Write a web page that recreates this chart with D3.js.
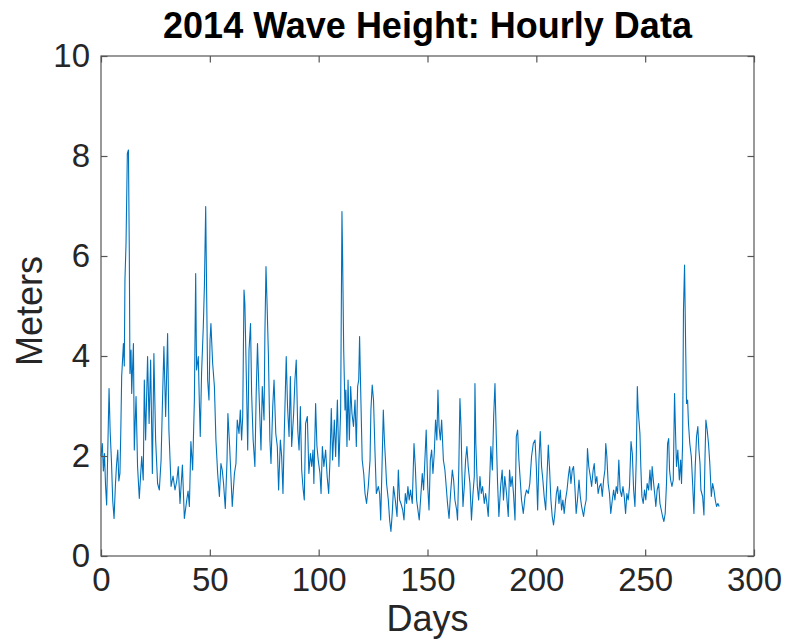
<!DOCTYPE html>
<html>
<head>
<meta charset="utf-8">
<script src="https://cdn.jsdelivr.net/npm/d3@7"></script>
<style>
  html, body { margin: 0; padding: 0; background: #fff; }
  svg { display: block; }
  text { font-family: "Liberation Sans", Arial, Helvetica, sans-serif; }
</style>
</head>
<body>
<svg id="chart" width="786" height="643"></svg>
<script>
// ---- Data ----
const chartTitle = "2014 Wave Height: Hourly Data";
const xLabel = "Days";
const yLabel = "Meters";
const xTicks = [0, 50, 100, 150, 200, 250, 300];
const yTicks = [0, 2, 4, 6, 8, 10];

const days = [
  0.0,0.6,1.1,1.6,2.1,2.6,3.2,3.7,4.2,4.8,5.4,6.0,6.6,7.1,7.7,8.2,8.7,9.1,9.5,10.3,10.7,11.0,11.5,12.1,12.6,13.0,13.3,13.8,14.1,14.9,
  15.3,16.1,16.8,17.6,18.7,19.4,19.9,20.5,21.4,22.1,22.8,23.6,24.3,25.1,26.0,26.8,27.6,28.3,28.9,29.7,30.6,31.2,32.2,33.1,34.0,34.8,35.5,36.3,37.4,38.3,
  39.4,40.0,40.6,41.3,42.1,42.9,43.5,43.9,44.7,45.2,45.6,46.2,47.0,47.5,48.1,
  48.5,49.0,49.6,50.1,50.5,51.3,52.1,52.8,53.6,54.4,55.1,55.7,56.3,57.1,57.9,58.3,59.1,59.7,60.3,61.3,62.0,62.6,63.4,64.0,64.6,65.1,65.7,66.1,66.8,67.4,
  68.0,68.7,69.2,69.9,70.7,71.3,71.9,72.6,73.5,74.1,74.9,75.3,75.8,76.2,76.9,77.6,78.1,78.9,79.5,80.3,81.0,81.6,82.4,83.0,83.6,84.2,85.1,85.7,86.4,87.0,
  87.6,88.5,89.1,89.7,90.4,91.0,91.6,92.2,92.9,93.4,94.0,94.8,95.5,96.2,96.8,97.4,97.8,98.6,99.2,
  99.8,100.6,101.1,101.7,102.4,103.2,103.9,104.6,105.2,105.8,106.4,107.2,107.8,108.6,109.3,110.1,110.7,111.0,111.5,112.1,112.5,113.0,113.5,114.1,114.7,115.3,116.0,116.7,117.3,117.9,
  118.4,118.8,119.4,120.0,120.7,121.3,122.0,122.8,123.6,124.0,124.6,125.2,125.9,126.5,127.4,128.0,128.5,129.1,129.7,130.2,130.6,131.2,132.0,132.6,133.2,133.8,134.4,135.2,136.0,136.6,
  137.2,137.8,138.6,139.2,139.8,140.4,141.0,141.6,142.2,143.0,143.8,144.4,145.0,145.6,146.2,147.0,147.6,148.2,148.8,
  149.4,150.1,150.7,151.3,151.9,152.5,153.1,153.7,154.3,154.8,155.3,155.9,156.5,157.3,158.0,158.6,159.2,159.9,160.6,161.4,162.0,162.6,163.4,163.8,164.4,164.9,165.4,165.8,166.3,166.9,
  167.5,168.1,168.7,169.5,170.2,170.9,171.5,171.8,172.2,172.9,173.5,174.1,174.7,175.3,176.1,176.7,177.3,177.9,178.5,179.1,179.8,180.4,181.0,181.6,182.2,182.8,183.6,184.3,184.9,185.5,
  186.3,187.1,187.7,188.3,188.9,189.5,190.2,190.8,191.4,192.0,192.6,193.2,194.0,194.8,195.5,196.3,197.0,197.8,198.6,
  199.4,200.0,200.6,201.2,201.8,202.4,203.0,203.6,204.3,204.9,205.5,206.1,206.7,207.3,207.9,208.5,209.2,209.8,210.4,211.0,211.6,212.2,212.8,213.4,214.1,214.7,215.3,215.9,216.5,217.1,
  217.7,218.3,218.9,219.6,220.2,220.8,221.7,222.3,222.9,223.5,224.1,224.8,225.4,226.1,226.6,227.2,227.8,228.4,229.0,229.7,230.3,230.9,231.5,231.9,232.4,233.0,233.6,234.2,234.9,235.5,
  236.1,236.7,237.3,237.9,238.5,239.2,239.8,240.4,241.0,241.6,242.2,242.8,243.5,244.1,244.7,245.3,245.9,246.4,246.8,
  247.6,248.0,248.5,249.1,249.7,250.3,250.9,251.6,252.2,252.8,253.2,253.9,254.5,254.9,255.5,256.2,256.8,257.4,258.0,258.6,259.2,259.8,260.3,260.8,261.2,261.7,262.3,262.9,263.5,264.0,
  264.4,265.0,265.7,266.3,266.7,267.2,267.6,268.1,268.6,269.0,269.5,269.9,270.5,271.2,271.8,272.4,273.0,273.6,274.2,274.7,275.2,275.6,276.4,277.0,277.5,277.9,278.5,279.1,279.7,280.4,
  281.0,281.6,282.2,282.8,283.4,284.0
];

const waveHeight = [
  2.0,2.25,1.7,2.05,1.4,1.02,2.3,3.35,2.5,1.9,1.1,0.75,1.4,1.8,2.12,1.5,1.65,2.5,3.59,4.25,3.8,5.52,6.25,8.05,8.12,6.12,3.65,4.12,3.25,4.25,
  2.12,3.19,1.79,1.15,1.99,1.52,3.52,2.32,3.99,2.65,3.92,1.65,4.05,2.32,1.45,1.32,1.92,3.19,4.19,2.79,4.45,2.52,1.39,1.6,1.32,1.5,1.79,1.05,1.82,0.75,
  1.12,1.3,0.99,2.29,1.72,3.12,5.65,3.72,3.99,3.05,2.39,3.65,4.59,5.39,6.99,
  5.39,3.52,3.12,4.32,4.65,3.85,3.39,2.32,1.65,1.19,1.85,1.72,1.45,0.95,1.92,2.85,2.19,1.59,0.99,1.65,1.85,2.72,2.45,2.92,2.32,2.79,5.32,5.05,3.52,2.12,
  4.12,4.65,3.25,2.32,1.79,3.25,4.25,3.25,2.12,3.39,2.72,4.45,5.79,5.19,4.05,2.32,1.85,2.99,3.52,2.45,2.19,1.32,2.32,1.99,1.25,2.45,3.99,2.99,2.39,3.59,
  2.19,2.85,3.52,3.92,2.52,2.12,2.99,1.72,1.32,1.12,2.65,2.79,1.65,2.05,1.79,2.12,1.45,3.05,2.2,
  1.92,1.65,1.25,2.19,1.79,2.12,1.59,1.25,1.92,2.95,1.92,2.72,1.99,3.12,1.79,2.92,6.89,5.99,4.12,2.92,3.32,2.19,3.52,2.32,3.39,2.85,2.59,3.12,2.19,3.39,
  3.52,4.39,3.12,1.92,1.65,1.25,1.05,1.39,1.92,2.92,3.42,3.12,2.05,1.25,1.39,1.25,0.72,1.79,2.92,2.32,1.99,1.45,1.12,0.72,0.49,0.85,1.39,1.12,0.79,1.72,
  1.12,1.05,0.92,0.72,1.25,1.05,1.39,1.12,1.32,1.05,2.25,1.79,1.12,0.92,0.72,1.25,1.65,1.32,1.92,
  2.52,1.39,0.92,1.92,2.12,1.65,2.05,2.72,2.32,3.32,2.59,2.32,2.72,1.92,1.72,1.39,1.05,0.75,1.25,1.72,1.52,1.12,0.92,0.72,1.79,3.15,2.59,1.72,0.99,1.39,
  1.92,2.19,1.79,1.45,0.72,1.25,1.59,3.45,2.25,1.39,1.12,1.59,1.25,1.39,1.05,1.25,1.05,0.79,1.45,2.19,1.72,2.79,3.45,2.39,1.45,0.79,1.39,1.72,1.12,1.59,
  1.25,0.79,1.72,1.39,1.59,1.25,0.72,2.39,2.52,1.92,1.52,1.12,0.85,1.19,1.32,1.25,1.45,1.99,2.25,
  2.32,1.79,0.92,1.92,2.49,1.79,1.52,1.19,0.92,1.59,2.22,1.72,1.12,0.79,0.62,0.85,1.25,1.39,1.05,1.32,0.92,1.12,0.85,1.12,1.32,1.59,1.79,1.45,1.72,1.79,
  1.39,0.85,1.12,1.52,1.19,0.99,0.79,0.99,1.12,2.15,1.79,1.59,1.39,1.72,1.85,1.45,1.59,1.25,1.39,1.45,1.19,1.52,1.72,2.25,1.99,1.45,1.25,0.85,1.12,1.32,
  1.12,1.39,1.25,1.92,1.32,1.19,1.39,1.19,0.85,1.25,1.12,1.39,2.29,2.05,1.32,0.99,1.92,3.39,2.92,
  2.45,1.79,1.19,1.05,1.32,1.12,1.45,1.32,1.72,1.32,1.79,1.45,1.19,0.99,1.32,1.45,1.05,0.92,0.79,0.69,0.85,1.45,2.25,2.35,1.72,1.52,1.39,1.52,3.25,2.39,
  1.79,2.12,1.52,1.92,1.45,2.25,4.92,5.82,4.19,3.05,3.12,2.65,2.25,1.99,1.45,0.85,1.79,2.39,2.59,2.12,1.85,1.32,1.19,0.82,1.99,2.72,2.52,2.25,1.85,1.19,
  1.45,1.32,1.12,0.99,1.05,0.99
];

// ---- Layout ----
const W = 786, H = 643;
const plot = { left: 101, right: 754, top: 56, bottom: 556 };
const axisColor = "#262626";
const lineColor = "#0072BD";

const svg = d3.select("#chart");
svg.append("rect").attr("width", W).attr("height", H).attr("fill", "#fff");

const x = d3.scaleLinear().domain([0, 300]).range([plot.left, plot.right]);
const y = d3.scaleLinear().domain([0, 10]).range([plot.bottom, plot.top]);

const data = days.map((d, i) => ({ d, v: waveHeight[i] }));

// data line
const line = d3.line().x(p => x(p.d)).y(p => y(p.v));
svg.append("path")
  .datum(data)
  .attr("fill", "none")
  .attr("stroke", lineColor)
  .attr("stroke-width", 1.1)
  .attr("stroke-linejoin", "round")
  .attr("d", line);

const tickLen = 6.5;
function styleAxis(g, showLabels) {
  g.select(".domain").remove();
  g.selectAll(".tick line").attr("stroke", "#555").attr("stroke-width", 1.2);
  g.selectAll(".tick text")
    .attr("fill", axisColor)
    .style("font-size", "33px")
    .style("font-family", "'Liberation Sans', Arial, Helvetica, sans-serif");
  if (!showLabels) g.selectAll(".tick text").remove();
}

svg.append("g")
  .attr("transform", `translate(0,${plot.bottom})`)
  .call(d3.axisBottom(x).tickValues(xTicks).tickSize(-tickLen).tickPadding(12).tickFormat(d3.format("d")))
  .call(g => styleAxis(g, true));

svg.append("g")
  .attr("transform", `translate(0,${plot.top})`)
  .call(d3.axisTop(x).tickValues(xTicks).tickSize(-tickLen))
  .call(g => styleAxis(g, false));

svg.append("g")
  .attr("transform", `translate(${plot.left},0)`)
  .call(d3.axisLeft(y).tickValues(yTicks).tickSize(-tickLen).tickPadding(11).tickFormat(d3.format("d")))
  .call(g => styleAxis(g, true));

svg.append("g")
  .attr("transform", `translate(${plot.right},0)`)
  .call(d3.axisRight(y).tickValues(yTicks).tickSize(-tickLen))
  .call(g => styleAxis(g, false));

// box
svg.append("rect")
  .attr("x", plot.left).attr("y", plot.top)
  .attr("width", plot.right - plot.left).attr("height", plot.bottom - plot.top)
  .attr("fill", "none").attr("stroke", "#555").attr("stroke-width", 1.2);

// labels
svg.append("text")
  .attr("x", (plot.left + plot.right) / 2).attr("y", 38)
  .attr("text-anchor", "middle")
  .attr("fill", "#000")
  .style("font-size", "36px").style("font-weight", "bold")
  .text(chartTitle);

svg.append("text")
  .attr("x", (plot.left + plot.right) / 2).attr("y", 631)
  .attr("text-anchor", "middle")
  .attr("fill", axisColor)
  .style("font-size", "36px")
  .text(xLabel);

svg.append("text")
  .attr("transform", `translate(42,${(plot.top + plot.bottom) / 2 + 5}) rotate(-90)`)
  .attr("text-anchor", "middle")
  .attr("fill", axisColor)
  .style("font-size", "36px")
  .text(yLabel);
</script>
</body>
</html>
